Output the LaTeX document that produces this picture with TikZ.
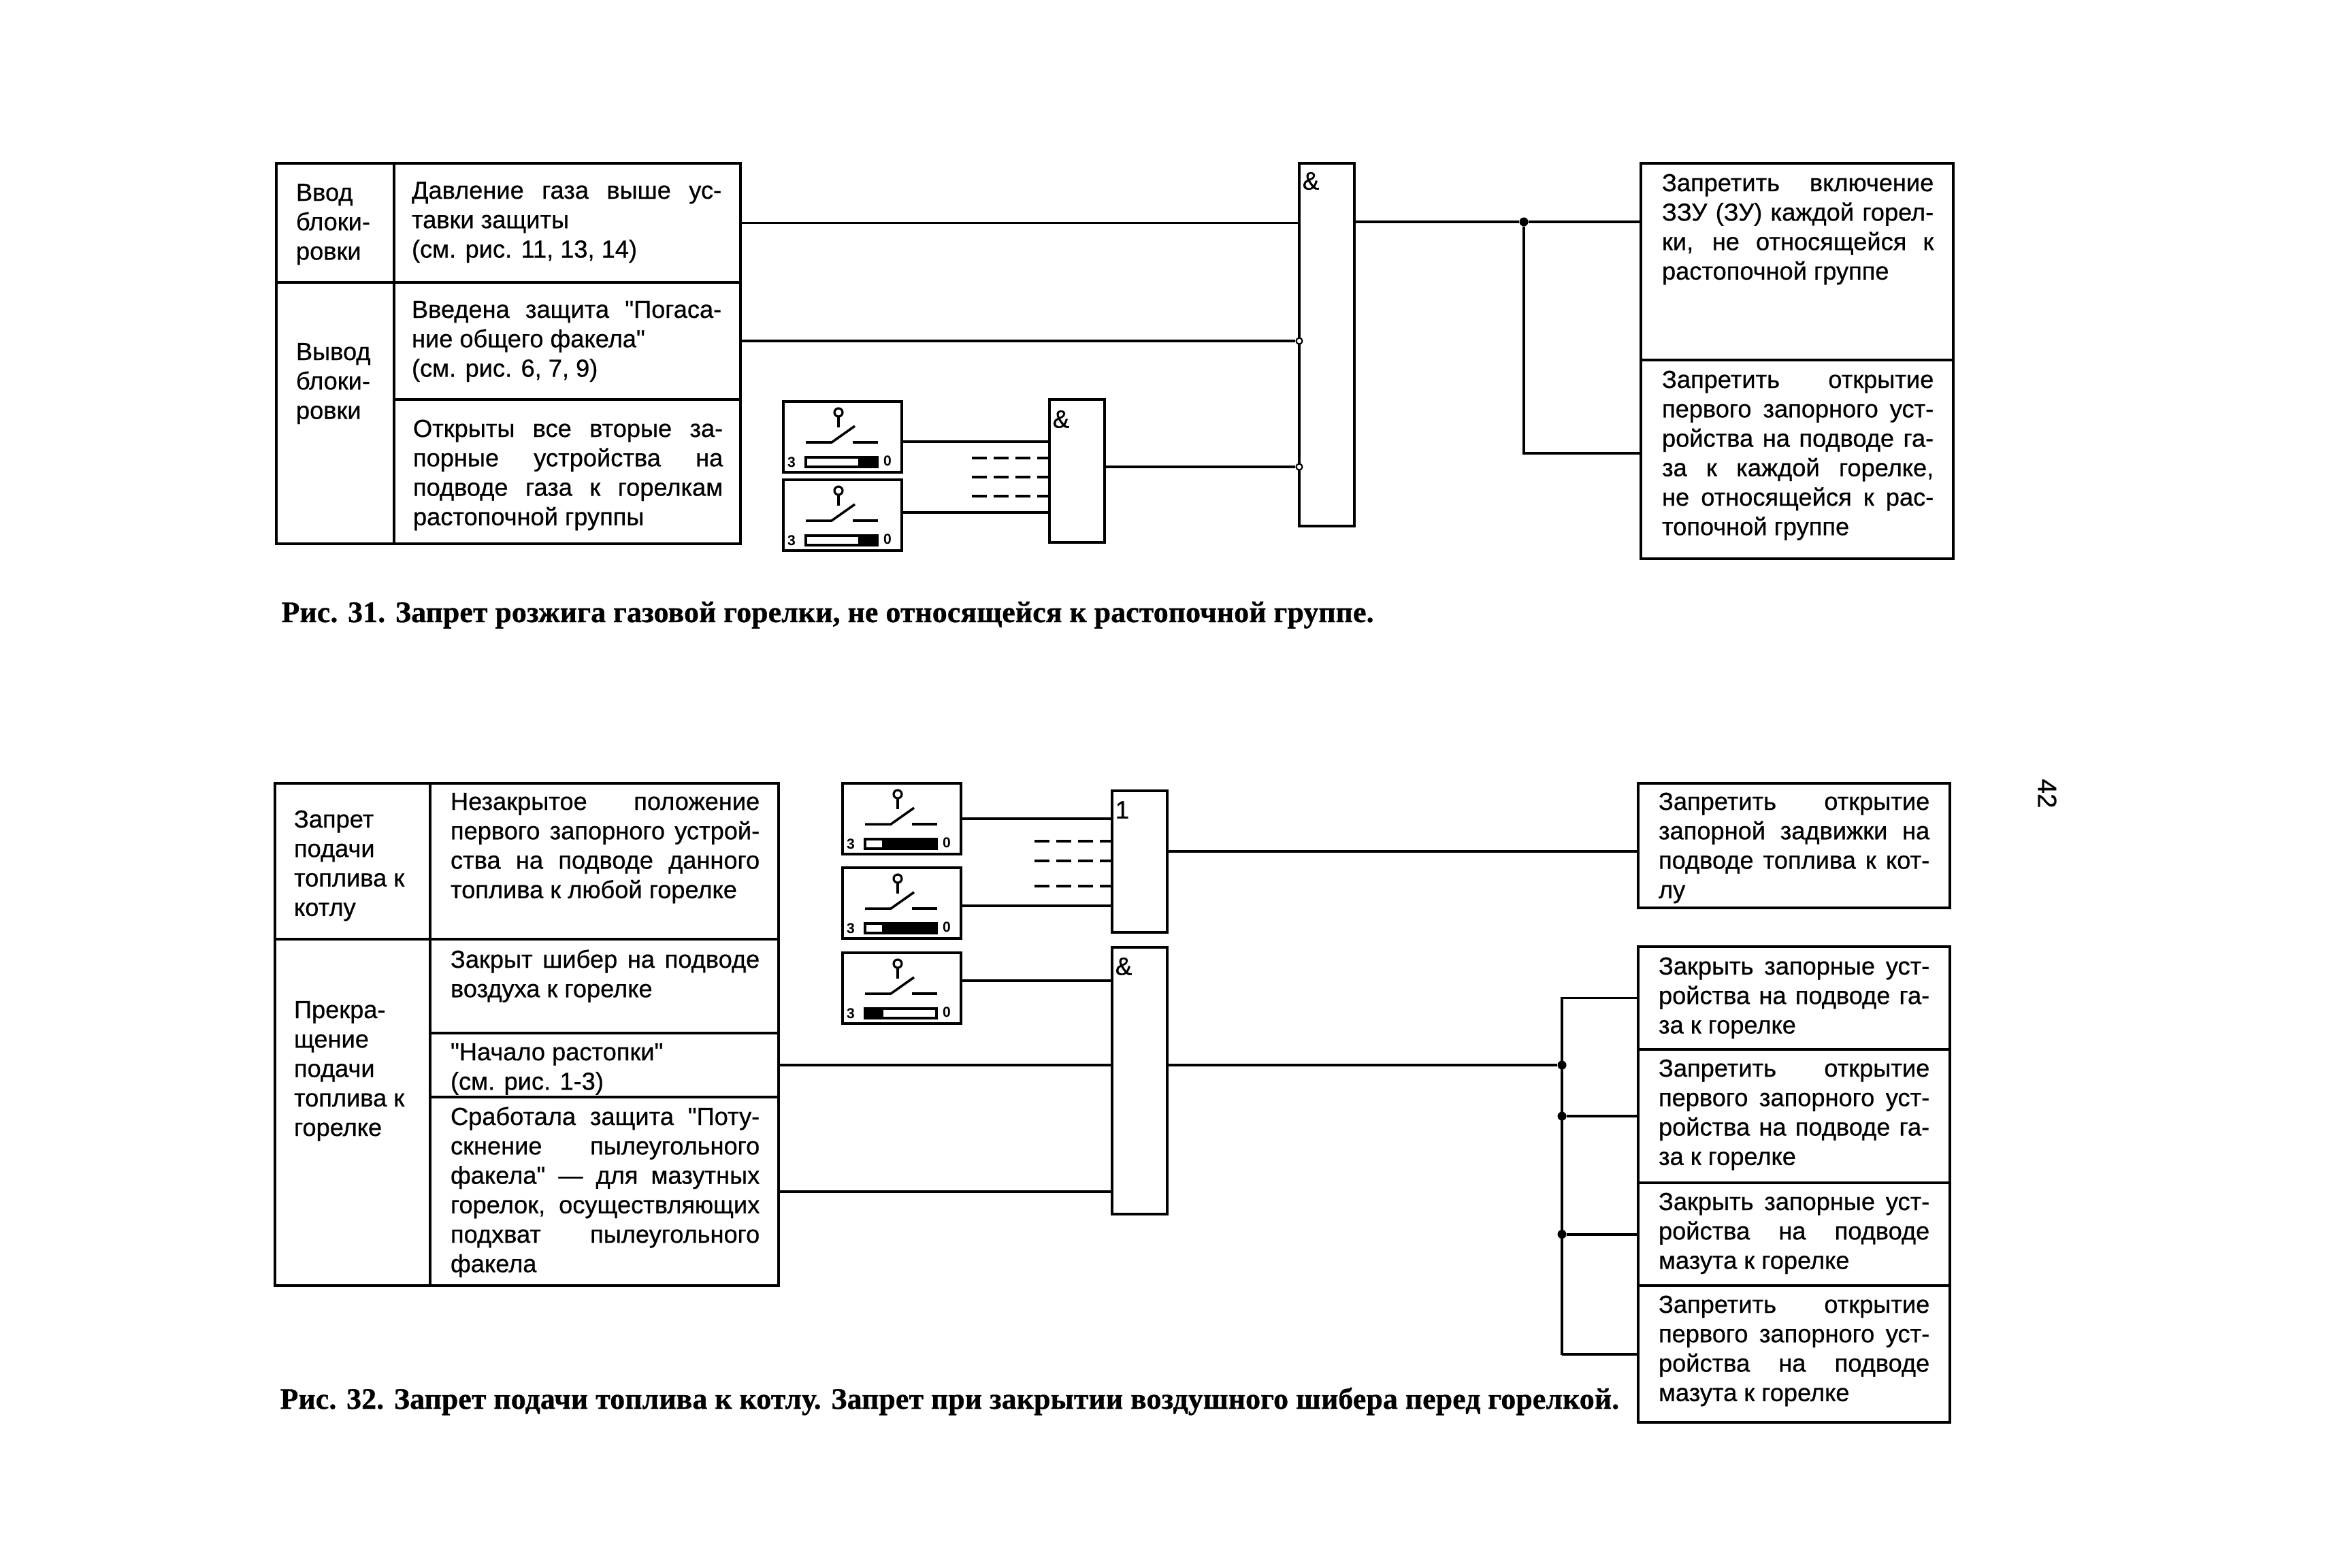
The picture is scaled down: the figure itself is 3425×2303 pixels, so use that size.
\documentclass[tikz,border=0pt]{standalone}
\usepackage{fontspec}
\usepackage{tikz}
\setmainfont[Ligatures=Common]{Liberation Sans}
\newfontfamily\lblfont[Ligatures=Common, FakeBold=0.6]{Liberation Sans}
\newfontfamily\capfont[LetterSpace=0.5, BoldFeatures={FakeBold=0.9}]{Liberation Serif}
\tikzset{
  sz/.style 2 args={minimum width=#1cm, minimum height=#2cm},
  cell/.style={draw, line width=1.1pt, inner sep=0pt, outer sep=0pt, anchor=north west},
  gate/.style={cell, line width=1.2pt},
  wire/.style={line width=1.1pt},
  dashline/.style={line width=1.1pt, dash pattern=on 0.22cm off 0.10cm},
  txt/.style={inner sep=0pt, outer sep=0pt, anchor=base west, align=justify,
    font=\lblfont\fontsize{10.3}{12.3}\selectfont},
  sym/.style={inner sep=0pt, font=\lblfont\fontsize{10.5}{12}\selectfont},
  inv/.style={circle, draw, fill=white, line width=0.6pt, inner sep=0pt, minimum size=0.09cm},
  dot/.style={circle, fill=black, inner sep=0pt, minimum size=0.13cm},
  figcap/.style={inner sep=0pt, anchor=base west, font=\capfont\fontsize{12.4}{15}\selectfont\bfseries},
  swlbl/.style={inner sep=0pt, font=\fontsize{6}{7}\selectfont\bfseries}
}
\begin{document}
\begin{tikzpicture}[x=0.01cm, y=-0.01cm]
  \useasboundingbox (0,0) rectangle (3425,2303);
  % table of fig. 31
  \node[cell, sz={1.73}{1.75}] (vvod) at (406,240) {};
  \node[cell, sz={1.73}{3.84}] (vyvod) at (406,415) {};
  \node[cell, sz={5.09}{1.75}] (davl) at (579,240) {};
  \node[cell, sz={5.09}{1.72}] (vved) at (579,415) {};
  \node[cell, sz={5.09}{2.12}] (otkr) at (579,587) {};
  \node[txt, text width=1.3cm] (tvvod) at (435,295) {Ввод\\блоки-\\ровки};
  \node[txt, text width=1.3cm] (tvyvod) at (435,529) {Вывод\\блоки-\\ровки};
  \node[txt, text width=4.55cm] (tdavl) at (605,292) {Давление газа выше ус-\linebreak тавки защиты\\(см. рис. 11, 13, 14)};
  \node[txt, text width=4.55cm] (tvved) at (605,467) {Введена защита "Погаса-\linebreak ние общего факела"\\(см. рис. 6, 7, 9)};
  \node[txt, text width=4.55cm] (totkr) at (607,642) {Открыты все вторые за-\linebreak порные устройства на\linebreak подводе газа к горелкам\linebreak растопочной группы};
  % switches of fig. 31 and fig. 32
  \foreach \nm/\xx/\yy/\fa/\fb/\ly in {sa/1151/590/110/138/59, sb/1151/705/110/138/48,
      sc/1238/1151/58/138/52, sd/1238/1275/58/138/56, se/1238/1400/33/60/41}{
    \begin{scope}[shift={(\xx,\yy)}]
      \node[cell, sz={1.74}{1.04}] (\nm) at (0,0) {};
      \coordinate (\nm-o) at (174,\ly);
      \draw[line width=0.9pt] (81,16) circle (0.06cm);
      \draw[line width=1pt] (81,22) -- (81,38);
      \draw[line width=1pt] (33,60) -- (71,60) -- (105,36);
      \draw[line width=1pt] (102,60) -- (139,60);
      \draw[line width=0.9pt] (33,82) rectangle (138,96);
      \fill (\fa,82) rectangle (\fb,96);
      \node[swlbl] (\nm-z) at (12,89) {3};
      \node[swlbl] (\nm-n) at (153,87) {0};
    \end{scope}
  }
  % gates of fig. 31
  \node[gate, sz={0.81}{2.10}] (gs) at (1542,587) {};
  \node[sym] (gsand) at (1559,616) {\&};
  \node[gate, sz={0.81}{5.33}] (ga) at (1909,240) {};
  \node[sym] (gaand) at (1926,266) {\&};
  \draw[wire] (sa-o) -- (gs.west |- sa-o);
  \draw[wire] (sb-o) -- (gs.west |- sb-o);
  \foreach \y in {673,701,729}{
    \coordinate (da\y) at (1428,\y);
    \draw[dashline] (da\y) -- (gs.west |- da\y);
  }
  \node[inv] (inva) at (ga.west |- vved.east) {};
  \node[inv] (invb) at (1909,686) {};
  \draw[wire] (davl.east) -- (ga.west |- davl.east);
  \draw[wire] (vved.east) -- (inva);
  \draw[wire] (gs.east |- invb) -- (invb);
  % outputs of fig. 31
  \node[cell, sz={4.59}{2.89}] (rza) at (2411,240) {};
  \node[cell, sz={4.59}{2.92}] (rzb) at (2411,529) {};
  \node[txt, text width=3.99cm] (trza) at (2442,281) {Запретить включение\linebreak ЗЗУ (ЗУ) каждой горел-\linebreak ки, не относящейся к\linebreak растопочной группе};
  \node[txt, text width=3.99cm] (trzb) at (2442,570) {Запретить открытие\linebreak первого запорного уст-\linebreak ройства на подводе га-\linebreak за к каждой горелке,\linebreak не относящейся к рас-\linebreak топочной группе};
  \node[dot] (ja) at (2239,326) {};
  \coordinate (tb) at (2411,666);
  \draw[wire] (ga.east |- ja) -- (ja) -- (rza.west |- ja);
  \draw[wire] (ja) |- (tb);
  \node[figcap] (capa) at (413,914) {Рис. 31. Запрет розжига газовой горелки, не относящейся к растопочной группе.};
  % table of fig. 32
  \node[cell, sz={2.28}{2.29}] (zapr) at (404,1151) {};
  \node[cell, sz={2.28}{5.09}] (prek) at (404,1380) {};
  \node[cell, sz={5.12}{2.29}] (nezk) at (632,1151) {};
  \node[cell, sz={5.12}{1.38}] (shib) at (632,1380) {};
  \node[cell, sz={5.12}{0.94}] (nach) at (632,1518) {};
  \node[cell, sz={5.12}{2.77}] (srab) at (632,1612) {};
  \node[txt, text width=1.9cm] (tzapr) at (432,1216) {Запрет\\подачи\\топлива к\\котлу};
  \node[txt, text width=1.9cm] (tprek) at (432,1496) {Прекра-\\щение\\подачи\\топлива к\\горелке};
  \node[txt, text width=4.54cm] (tnezk) at (662,1190) {Незакрытое положение\linebreak первого запорного устрой-\linebreak ства на подводе данного\linebreak топлива к любой горелке};
  \node[txt, text width=4.54cm] (tshib) at (662,1422) {Закрыт шибер на подводе\linebreak воздуха к горелке};
  \node[txt, text width=4.54cm] (tnach) at (662,1558) {"Начало растопки"\\(см. рис. 1-3)};
  \node[txt, text width=4.54cm] (tsrab) at (662,1653) {Сработала защита "Поту-\linebreak скнение пылеугольного\linebreak факела" — для мазутных\linebreak горелок, осуществляющих\linebreak подхват пылеугольного\linebreak факела};
  % gates of fig. 32
  \node[gate, sz={0.81}{2.08}] (gor) at (1634,1162) {};
  \node[sym] (gorone) at (1649,1190) {1};
  \node[gate, sz={0.81}{3.92}] (gd) at (1634,1392) {};
  \node[sym] (gdand) at (1651,1420) {\&};
  \draw[wire] (sc-o) -- (gor.west |- sc-o);
  \draw[wire] (sd-o) -- (gor.west |- sd-o);
  \draw[wire] (se-o) -- (gd.west |- se-o);
  \foreach \y in {1236,1265,1302}{
    \coordinate (dc\y) at (1520,\y);
    \draw[dashline] (dc\y) -- (gor.west |- dc\y);
  }
  \draw[wire] (nach.east) -- (gd.west |- nach.east);
  \draw[wire] (srab.east) -- (gd.west |- srab.east);
  % outputs of fig. 32
  \node[cell, sz={4.58}{1.83}] (rzd) at (2407,1151) {};
  \node[cell, sz={4.58}{1.51}] (zg) at (2407,1391) {};
  \node[cell, sz={4.58}{1.96}] (zp) at (2407,1542) {};
  \node[cell, sz={4.58}{1.51}] (zm) at (2407,1738) {};
  \node[cell, sz={4.58}{2.01}] (zz) at (2407,1889) {};
  \node[txt, text width=3.98cm] (trzd) at (2437,1190) {Запретить открытие\linebreak запорной задвижки на\linebreak подводе топлива к кот-\linebreak лу};
  \node[txt, text width=3.98cm] (tzg) at (2437,1432) {Закрыть запорные уст-\linebreak ройства на подводе га-\linebreak за к горелке};
  \node[txt, text width=3.98cm] (tzp) at (2437,1582) {Запретить открытие\linebreak первого запорного уст-\linebreak ройства на подводе га-\linebreak за к горелке};
  \node[txt, text width=3.98cm] (tzm) at (2437,1778) {Закрыть запорные уст-\linebreak ройства на подводе\linebreak мазута к горелке};
  \node[txt, text width=3.98cm] (tzz) at (2437,1929) {Запретить открытие\linebreak первого запорного уст-\linebreak ройства на подводе\linebreak мазута к горелке};
  \coordinate (ot) at (2407,1251);
  \draw[wire] (gor.east |- ot) -- (ot);
  \coordinate (bus) at (2295,1990);
  \node[dot] (jb) at (bus |- nach.east) {};
  \node[dot] (jc) at (zp.west -| bus) {};
  \node[dot] (jd) at (zm.west -| bus) {};
  \draw[wire] (gd.east |- jb) -- (jb);
  \draw[wire] (zg.west) -| (bus);
  \draw[wire] (zz.west) -- (zz.west -| bus) -- (bus);
  \draw[wire] (jc) -- (zp.west);
  \draw[wire] (jd) -- (zm.west);
  \node[figcap] (capb) at (411,2070) {Рис. 32. Запрет подачи топлива к котлу. Запрет при закрытии воздушного шибера перед горелкой.};
  % page number
  \node[inner sep=0pt, rotate=-90, font=\lblfont\fontsize{11}{13}\selectfont] (pnum) at (3008,1166) {42};
\end{tikzpicture}
\end{document}
